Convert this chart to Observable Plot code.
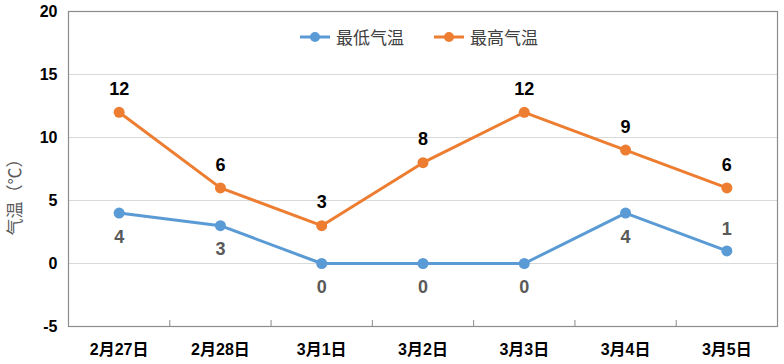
<!DOCTYPE html>
<html><head><meta charset="utf-8">
<script src="https://cdn.jsdelivr.net/npm/d3@7"></script>
<script src="https://cdn.jsdelivr.net/npm/@observablehq/plot@0.6"></script>
<style>
body{margin:0;background:#fff;}
#wrap{position:relative;width:784px;height:364px;font-family:"Liberation Sans","Noto Sans CJK SC",sans-serif;}
#legend{position:absolute;top:24px;left:300px;display:flex;gap:30px;font-family:"Noto Sans CJK SC",serif;font-size:17px;color:#404040;}
.item{display:flex;align-items:center;gap:6px;}
</style>
</head><body>
<div id="wrap"></div>
<script>
const dates = ["2月27日","2月28日","3月1日","3月2日","3月3日","3月4日","3月5日"];
const lows = [4,3,0,0,0,4,1];
const highs = [12,6,3,8,12,9,6];
const seriesNames = ["最低气温","最高气温"];
const seriesColors = ["#5B9BD5","#ED7D31"];
const yTicks = [-5,0,5,10,15,20];

const idx = dates.map((d,i)=>i);
const lowData = idx.map(i=>({i, v:lows[i]}));
const highData = idx.map(i=>({i, v:highs[i]}));
const lastIdx = dates.length-1;

const font = "'Liberation Sans','Noto Sans CJK SC',sans-serif";
const chart = Plot.plot({
  width:784, height:364,
  marginLeft:68, marginRight:7, marginTop:11, marginBottom:38,
  style:{fontFamily:font, background:"#fff", overflow:"visible"},
  x:{domain:[-0.5, dates.length-0.5], axis:null},
  y:{domain:[-5,20], axis:null},
  marks:[
    Plot.gridY(yTicks.filter(t=>t>-5 && t<20), {stroke:"#d9d9d9", strokeOpacity:1}),
    Plot.frame({stroke:"#8c8c8c", strokeWidth:1.2}),
    Plot.axisY(yTicks, {label:null, tickSize:0, tickPadding:11, fontSize:16, fontWeight:"bold", fill:"#000", tickFormat:d=>String(d)}),
    Plot.axisX(idx.slice(1).map(i=>i-0.5), {label:null, tickSize:-6, stroke:"#8c8c8c", tickFormat:()=>""}),
    Plot.axisX(idx, {label:null, tickSize:0, tickPadding:17, fontSize:16, fontWeight:"bold", fill:"#000", tickFormat:i=>dates[i]}),
    Plot.text(["气温（℃）"], {frameAnchor:"left", textAnchor:"middle", dx:-53, dy:24, rotate:-90, fontSize:17, fill:"#595959"}),
    Plot.line(lowData, {x:"i", y:"v", stroke:seriesColors[0], strokeWidth:3}),
    Plot.line(highData, {x:"i", y:"v", stroke:seriesColors[1], strokeWidth:3}),
    Plot.dot(lowData, {x:"i", y:"v", fill:seriesColors[0], r:5.5}),
    Plot.dot(highData, {x:"i", y:"v", fill:seriesColors[1], r:5.5}),
    Plot.text(highData, {x:"i", y:"v", text:d=>String(d.v), dy:-23, fontSize:18, fontWeight:"bold", fill:"#000"}),
    Plot.text(lowData.filter(d=>d.i!==lastIdx), {x:"i", y:"v", text:d=>String(d.v), dy:24, fontSize:18, fontWeight:"bold", fill:"#595959"}),
    Plot.text(lowData.filter(d=>d.i===lastIdx), {x:"i", y:"v", text:d=>String(d.v), dy:-22, fontSize:18, fontWeight:"bold", fill:"#595959"})
  ]
});
const wrap = document.getElementById("wrap");
wrap.appendChild(chart);
const legend = document.createElement("div");
legend.id = "legend";
seriesNames.forEach((n,k)=>{
  const it = document.createElement("div");
  it.className = "item";
  it.innerHTML = `<svg width="30" height="12"><line x1="0" y1="6" x2="30" y2="6" stroke="${seriesColors[k]}" stroke-width="3"/><circle cx="15" cy="6" r="5" fill="${seriesColors[k]}"/></svg><span>${n}</span>`;
  legend.appendChild(it);
});
wrap.appendChild(legend);
</script>
</body></html>
